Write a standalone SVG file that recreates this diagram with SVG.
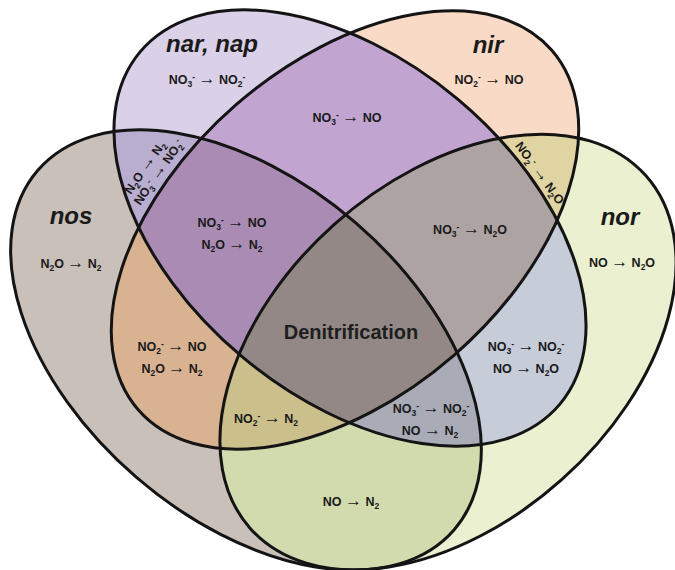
<svg xmlns="http://www.w3.org/2000/svg" xmlns:xlink="http://www.w3.org/1999/xlink" width="675" height="570" viewBox="0 0 675 570">
<style>
.outline{fill:none;stroke:#141414;stroke-width:3}
.lbl{font-family:"Liberation Sans",Arial,sans-serif;font-weight:bold;font-style:italic;font-size:24px;fill:#1a1a1a;text-anchor:middle}
.rx{font-family:"Liberation Sans",Arial,sans-serif;font-weight:bold;font-size:12.5px;fill:#1a1a1a;text-anchor:middle}
.sb{font-size:8.5px}
.ar{font-size:17px}
.big{font-family:"Liberation Sans",Arial,sans-serif;font-weight:bold;font-size:20px;fill:#1e1e1e;text-anchor:middle}
</style>
<defs>
<ellipse id="e-nar" cx="350" cy="228" rx="274" ry="168" transform="rotate(40 350 228)"/>
<ellipse id="e-nir" cx="345" cy="230" rx="274" ry="166" transform="rotate(-41 345 230)"/>
<ellipse id="e-nos" cx="246" cy="350" rx="275" ry="168" transform="rotate(40.8 246 350)"/>
<ellipse id="e-nor" cx="448" cy="352" rx="265" ry="171" transform="rotate(-41.8 448 352)"/>
<clipPath id="c-nar"><ellipse cx="350" cy="228" rx="274" ry="168" transform="rotate(40 350 228)"/></clipPath>
<clipPath id="c-nir"><ellipse cx="345" cy="230" rx="274" ry="166" transform="rotate(-41 345 230)"/></clipPath>
<clipPath id="c-nos"><ellipse cx="246" cy="350" rx="275" ry="168" transform="rotate(40.8 246 350)"/></clipPath>
<clipPath id="c-nor"><ellipse cx="448" cy="352" rx="265" ry="171" transform="rotate(-41.8 448 352)"/></clipPath>
</defs>
<rect width="675" height="570" fill="#ffffff"/>
<g id="regions">
<use xlink:href="#e-nos" fill="#c9c0ba"/>
<use xlink:href="#e-nor" fill="#eaf0d0"/>
<use xlink:href="#e-nar" fill="#dad0e8"/>
<use xlink:href="#e-nir" fill="#f9dac6"/>
<g clip-path="url(#c-nir)"><use xlink:href="#e-nar" fill="#c1a5d0"/></g>
<g clip-path="url(#c-nos)"><use xlink:href="#e-nar" fill="#b9add0"/></g>
<g clip-path="url(#c-nor)"><use xlink:href="#e-nar" fill="#c6ccd8"/></g>
<g clip-path="url(#c-nos)"><use xlink:href="#e-nir" fill="#d9b292"/></g>
<g clip-path="url(#c-nor)"><use xlink:href="#e-nir" fill="#e0d4a2"/></g>
<g clip-path="url(#c-nor)"><use xlink:href="#e-nos" fill="#d1dbae"/></g>
<g clip-path="url(#c-nos)"><g clip-path="url(#c-nir)"><use xlink:href="#e-nar" fill="#a98bb3"/></g></g>
<g clip-path="url(#c-nor)"><g clip-path="url(#c-nir)"><use xlink:href="#e-nar" fill="#ada3a2"/></g></g>
<g clip-path="url(#c-nor)"><g clip-path="url(#c-nos)"><use xlink:href="#e-nar" fill="#a9abb7"/></g></g>
<g clip-path="url(#c-nor)"><g clip-path="url(#c-nos)"><use xlink:href="#e-nir" fill="#cbbf8c"/></g></g>
<g clip-path="url(#c-nor)"><g clip-path="url(#c-nos)"><g clip-path="url(#c-nir)"><use xlink:href="#e-nar" fill="#938886"/></g></g></g>
</g>
<g id="set-nos">
<use xlink:href="#e-nos" class="outline"/>
<text class="lbl" x="71" y="224">nos</text>
<text class="rx" x="71" y="268">N<tspan class="sb" dy="3">2</tspan><tspan dy="-3">O </tspan><tspan class="ar">→</tspan><tspan> N</tspan><tspan class="sb" dy="3">2</tspan></text>
</g>
<g id="set-nor">
<use xlink:href="#e-nor" class="outline"/>
<text class="lbl" x="620" y="225">nor</text>
<text class="rx" x="622" y="267">NO <tspan class="ar">→</tspan><tspan> N</tspan><tspan class="sb" dy="3">2</tspan><tspan dy="-3">O</tspan></text>
</g>
<g id="set-nar">
<use xlink:href="#e-nar" class="outline"/>
<text class="lbl" x="212" y="52">nar, nap</text>
<text class="rx" x="207" y="84">NO<tspan class="sb" dy="3">3</tspan><tspan class="sb" dy="-7.5">-</tspan><tspan dy="4.5"> </tspan><tspan class="ar">→</tspan><tspan> NO</tspan><tspan class="sb" dy="3">2</tspan><tspan class="sb" dy="-7.5">-</tspan></text>
</g>
<g id="set-nir">
<use xlink:href="#e-nir" class="outline"/>
<text class="lbl" x="488" y="53">nir</text>
<text class="rx" x="489" y="84">NO<tspan class="sb" dy="3">2</tspan><tspan class="sb" dy="-7.5">-</tspan><tspan dy="4.5"> </tspan><tspan class="ar">→</tspan><tspan> NO</tspan></text>
</g>
<g id="region-nar-nir">
<text class="rx" x="347" y="122">NO<tspan class="sb" dy="3">3</tspan><tspan class="sb" dy="-7.5">-</tspan><tspan dy="4.5"> </tspan><tspan class="ar">→</tspan><tspan> NO</tspan></text>
</g>
<g id="region-nar-nos" transform="translate(152,170) rotate(-55)">
<text class="rx" x="-2" y="-3">N<tspan class="sb" dy="3">2</tspan><tspan dy="-3">O </tspan><tspan class="ar">→</tspan><tspan> N</tspan><tspan class="sb" dy="3">2</tspan></text>
<text class="rx" x="2" y="11">NO<tspan class="sb" dy="3">3</tspan><tspan class="sb" dy="-7.5">-</tspan><tspan dy="4.5"> </tspan><tspan class="ar">→</tspan><tspan> NO</tspan><tspan class="sb" dy="3">2</tspan><tspan class="sb" dy="-7.5">-</tspan></text>
</g>
<g id="region-nir-nor" transform="translate(540,173) rotate(54)">
<text class="rx" x="0" y="4.5">NO<tspan class="sb" dy="3">2</tspan><tspan class="sb" dy="-7.5">-</tspan><tspan dy="4.5"> </tspan><tspan class="ar">→</tspan><tspan> N</tspan><tspan class="sb" dy="3">2</tspan><tspan dy="-3">O</tspan></text>
</g>
<g id="region-nar-nir-nos">
<text class="rx" x="232" y="227">NO<tspan class="sb" dy="3">3</tspan><tspan class="sb" dy="-7.5">-</tspan><tspan dy="4.5"> </tspan><tspan class="ar">→</tspan><tspan> NO</tspan></text>
<text class="rx" x="232" y="249">N<tspan class="sb" dy="3">2</tspan><tspan dy="-3">O </tspan><tspan class="ar">→</tspan><tspan> N</tspan><tspan class="sb" dy="3">2</tspan></text>
</g>
<g id="region-nar-nir-nor">
<text class="rx" x="470" y="234">NO<tspan class="sb" dy="3">3</tspan><tspan class="sb" dy="-7.5">-</tspan><tspan dy="4.5"> </tspan><tspan class="ar">→</tspan><tspan> N</tspan><tspan class="sb" dy="3">2</tspan><tspan dy="-3">O</tspan></text>
</g>
<g id="region-all">
<text class="big" x="351" y="339">Denitrification</text>
</g>
<g id="region-nir-nos">
<text class="rx" x="172" y="351">NO<tspan class="sb" dy="3">2</tspan><tspan class="sb" dy="-7.5">-</tspan><tspan dy="4.5"> </tspan><tspan class="ar">→</tspan><tspan> NO</tspan></text>
<text class="rx" x="172" y="373">N<tspan class="sb" dy="3">2</tspan><tspan dy="-3">O </tspan><tspan class="ar">→</tspan><tspan> N</tspan><tspan class="sb" dy="3">2</tspan></text>
</g>
<g id="region-nar-nor">
<text class="rx" x="526" y="351">NO<tspan class="sb" dy="3">3</tspan><tspan class="sb" dy="-7.5">-</tspan><tspan dy="4.5"> </tspan><tspan class="ar">→</tspan><tspan> NO</tspan><tspan class="sb" dy="3">2</tspan><tspan class="sb" dy="-7.5">-</tspan></text>
<text class="rx" x="526" y="373">NO <tspan class="ar">→</tspan><tspan> N</tspan><tspan class="sb" dy="3">2</tspan><tspan dy="-3">O</tspan></text>
</g>
<g id="region-nir-nos-nor">
<text class="rx" x="266" y="423">NO<tspan class="sb" dy="3">2</tspan><tspan class="sb" dy="-7.5">-</tspan><tspan dy="4.5"> </tspan><tspan class="ar">→</tspan><tspan> N</tspan><tspan class="sb" dy="3">2</tspan></text>
</g>
<g id="region-nar-nos-nor">
<text class="rx" x="431" y="413">NO<tspan class="sb" dy="3">3</tspan><tspan class="sb" dy="-7.5">-</tspan><tspan dy="4.5"> </tspan><tspan class="ar">→</tspan><tspan> NO</tspan><tspan class="sb" dy="3">2</tspan><tspan class="sb" dy="-7.5">-</tspan></text>
<text class="rx" x="430" y="435">NO <tspan class="ar">→</tspan><tspan> N</tspan><tspan class="sb" dy="3">2</tspan></text>
</g>
<g id="region-nos-nor">
<text class="rx" x="351" y="506">NO <tspan class="ar">→</tspan><tspan> N</tspan><tspan class="sb" dy="3">2</tspan></text>
</g>
</svg>
